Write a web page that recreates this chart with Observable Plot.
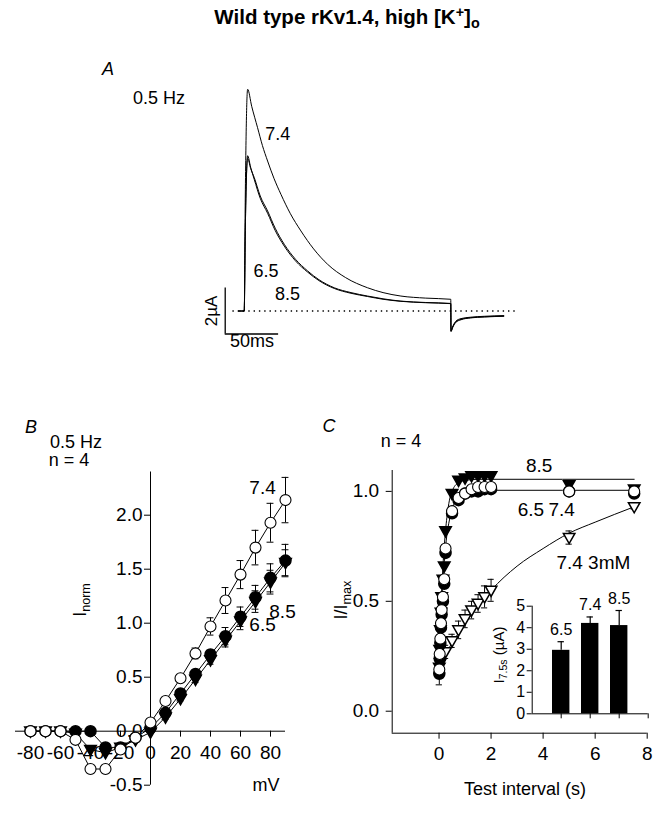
<!DOCTYPE html>
<html><head><meta charset="utf-8">
<script src="https://cdn.jsdelivr.net/npm/d3@7"></script>
<script src="https://cdn.jsdelivr.net/npm/@observablehq/plot@0.6"></script>
<style>
body{margin:0;background:#fff;}
#fig{position:relative;width:660px;height:817px;background:#fff;font-family:"Liberation Sans",Arial,Helvetica,sans-serif;color:#000;overflow:hidden;}
.lbl{position:absolute;white-space:nowrap;line-height:0.9;}
.lbl sub{font-size:0.7em;vertical-align:-0.3em;}
.lbl sup{font-size:0.7em;vertical-align:0.45em;}
</style></head><body><div id="fig"></div>
<script>
// ===== Panel A: current traces (time in ms, current in µA) =====
const traceT = [-5,0,1,3.2,7,12.5,17,21.9,28,34.4,43,53.1,65,78.1,95,115.5,130,146.7,170,193.4,193.6,195,198,203,212,225,243];
const trace74 = [0,0,5,9.64,8.9,7.97,7.2,6.52,5.75,5.07,4.25,3.48,2.7,2.03,1.45,1.01,0.8,0.65,0.56,0.51,-0.87,-0.7,-0.45,-0.33,-0.27,-0.23,-0.2];
const traceT2 = [-5,0,1,3.2,6,9.4,15,21.9,29,37.5,48,59.4,70,84.3,100,115.5,130,146.7,170,193.4,193.6,195,198,203,212,225,243];
const trace65 = [0,0,3.5,6.64,6.2,5.8,5.0,4.35,3.6,2.9,2.25,1.74,1.36,1.01,0.8,0.65,0.53,0.43,0.37,0.33,-0.87,-0.72,-0.48,-0.36,-0.29,-0.25,-0.22];
const trace85 = [0,0,3.5,6.75,6.25,5.72,4.9,4.25,3.5,2.82,2.18,1.69,1.32,0.98,0.77,0.63,0.51,0.42,0.36,0.32,-0.9,-0.74,-0.5,-0.38,-0.3,-0.26,-0.23];

// ===== Panel B: I-V (mV, normalized current) =====
const vB   = [-80,-70,-60,-50,-40,-30,-20,-10,0,10,20,30,40,50,60,70,80,90];
const iB74 = [0,0,0,-0.08,-0.35,-0.35,-0.17,-0.06,0.08,0.28,0.49,0.72,0.97,1.21,1.45,1.70,1.93,2.14];
const eB74 = [0,0,0,0,0,0,0,0,0,0.02,0.03,0.05,0.08,0.12,0.13,0.16,0.18,0.21];
const iB65 = [0,0,0,0,0,-0.15,-0.15,-0.06,0.03,0.17,0.35,0.53,0.71,0.88,1.06,1.24,1.42,1.58];
const eB65 = [0,0,0,0,0,0,0,0,0,0.02,0.02,0.03,0.04,0.08,0.09,0.11,0.13,0.15];
const iB85 = [0,0,0,-0.02,-0.17,-0.2,-0.15,-0.08,-0.01,0.13,0.3,0.48,0.66,0.84,1.02,1.2,1.38,1.56];
const eB85 = [0,0,0,0,0,0,0,0,0,0.02,0.02,0.03,0.04,0.06,0.08,0.1,0.11,0.12];
const bYTicks = [-0.5,0,0.5,1,1.5,2];
const bXTicks = [-80,-60,-40,-20,0,20,40,60,80];
const bXTickMarks = [-80,-60,-40,-20,20,40,60,80];

// ===== Panel C: recovery (s, I/Imax) =====
const tC   = [0.01,0.025,0.05,0.075,0.1,0.15,0.2,0.25,0.5,0.75,1,1.25,1.5,1.75,2,5,7.5];
const cC74 = [0.19,0.26,0.33,0.40,0.46,0.52,0.60,0.74,0.91,0.97,0.99,1.01,1.02,1.02,1.02,1.0,1.0];
const cC65 = [0.17,0.24,0.31,0.38,0.44,0.50,0.58,0.72,0.90,0.96,0.99,1.0,1.0,1.01,1.01,1.0,0.99];
const eC65 = [0.05,0.02,0.02,0.02,0.02,0.02,0.02,0.02,0.01,0.01,0.01,0.01,0.01,0.01,0.01,0.01,0.01];
const cC85 = [0.20,0.28,0.37,0.45,0.52,0.60,0.66,0.82,0.99,1.05,1.06,1.07,1.07,1.07,1.07,1.03,1.01];
const tC3  = [0.05,0.25,0.5,0.75,1,1.25,1.5,1.75,2,5,7.5];
const cC3  = [0.22,0.27,0.32,0.37,0.42,0.46,0.49,0.52,0.55,0.79,0.93];
const eC3  = [0.02,0.03,0.03,0.04,0.04,0.04,0.04,0.05,0.05,0.03,0.01];
const fitT   = [0,0.02,0.05,0.1,0.15,0.2,0.3,0.4,0.5,0.75,1,1.5,2,7.5];
const fit74  = [0.18,0.25,0.35,0.5,0.6,0.68,0.8,0.87,0.92,0.97,0.995,1.005,1.005,1.005];
const fit85  = [0.2,0.28,0.38,0.54,0.66,0.75,0.88,0.96,1.0,1.04,1.05,1.055,1.055,1.055];
const fit3T  = [0,0.5,1,1.5,2,3,4,5,6,7.5];
const fit3   = [0.21,0.31,0.40,0.48,0.55,0.66,0.74,0.81,0.86,0.93];
const cXTicks = [0,2,4,6,8];
const cYTicks = [0,0.5,1];

// ===== Inset: I7.5s bars (µA) =====
const barCats = ["6.5","7.4","8.5"];
const barVals = [2.95,4.2,4.1];
const barErr  = [0.4,0.3,0.7];
const insetYTicks = [0,1,2,3,4,5];

// ---------------------------------------------------------------
const FONT = '"Liberation Sans", Arial, Helvetica, sans-serif';
const fig = document.getElementById("fig");
function place(svg, left, top){
  svg.style.position="absolute"; svg.style.left=left+"px"; svg.style.top=top+"px";
  svg.style.background="transparent"; svg.style.overflow="visible";
  fig.appendChild(svg);
}
function label(html, x, y, o={}){
  const d=document.createElement("div"); d.className="lbl"; d.innerHTML=html;
  d.style.left=x+"px"; d.style.top=y+"px"; d.style.fontSize=(o.size||18)+"px";
  let tr="translate(-50%,-50%)"; if(o.rotate) tr+=` rotate(${o.rotate}deg)`;
  d.style.transform=tr;
  if(o.italic) d.style.fontStyle="italic"; if(o.bold) d.style.fontWeight="bold";
  fig.appendChild(d);
}
const style = {fontFamily: FONT, fontSize:"18px", background:"transparent", overflow:"visible", color:"black"};
const TK = 19; // tick label size
const triDown = {draw(ctx, size){ const r=Math.sqrt(size/Math.PI); ctx.moveTo(-r*1.05,-r*0.75); ctx.lineTo(r*1.05,-r*0.75); ctx.lineTo(0,r*1.1); ctx.closePath(); }};
function errMarks(xs, ys, es, cap, sw=1){
  const d = xs.map((x,i)=>({x, y:ys[i], e:es[i]})).filter(d=>d.e>0);
  return [
    Plot.ruleX(d,{x:"x", y1:d=>d.y-d.e, y2:d=>d.y+d.e, stroke:"black", strokeWidth:sw}),
    Plot.ruleY(d,{y:d=>d.y+d.e, x1:d=>d.x-cap, x2:d=>d.x+cap, stroke:"black", strokeWidth:sw}),
    Plot.ruleY(d,{y:d=>d.y-d.e, x1:d=>d.x-cap, x2:d=>d.x+cap, stroke:"black", strokeWidth:sw})
  ];
}
const zip = (xs, ys) => xs.map((x,i)=>({x, y:ys[i]}));

// Title and panel labels
label('Wild type rKv1.4, high [K<sup>+</sup>]<sub>o</sub>', 347, 18, {size:20.5, bold:true});
label('A', 108, 69, {size:18, italic:true});
label('0.5 Hz', 159, 98, {size:18});
label('B', 31, 427, {size:18, italic:true});
label('0.5 Hz', 76, 442, {size:18});
label('n = 4', 69, 460, {size:18});
label('I<sub>norm</sub>', 82, 600, {size:18, rotate:-90});
label('mV', 266, 785, {size:18});
label('C', 329, 426, {size:18, italic:true});
label('n = 4', 401, 441, {size:18});
label('I/I<sub>max</sub>', 343, 600, {size:18, rotate:-90});
label('Test interval (s)', 525, 789, {size:18});
label('I<sub>7.5s</sub> (µA)', 500, 655, {size:15, rotate:-90});

// ---------------- Panel A ----------------
const A = Plot.plot({
  width:316, height:287.5, marginLeft:0, marginRight:0.94, marginTop:0, marginBottom:0,
  x:{domain:[-40,255], axis:null}, y:{domain:[-2,10.5], axis:null}, style,
  marks:[
    Plot.ruleY([0],{x1:-10.6, x2:254, stroke:"black", strokeWidth:1.4, strokeDasharray:"1.4,3.9"}),
    Plot.line(zip(traceT2, trace85),{x:"x", y:"y", curve:"monotone-x", stroke:"black", strokeWidth:1}),
    Plot.line(zip(traceT2, trace65),{x:"x", y:"y", curve:"monotone-x", stroke:"black", strokeWidth:1}),
    Plot.line(zip(traceT, trace74),{x:"x", y:"y", curve:"monotone-x", stroke:"black", strokeWidth:1}),
    Plot.ruleX([-17.8],{y1:-1, y2:1, stroke:"black", strokeWidth:1.3}),
    Plot.ruleY([-1],{x1:-17.8, x2:32.2, stroke:"black", strokeWidth:1.3}),
    Plot.text(["2µA"],{x:-31, y:0, text:d=>d, rotate:-90, fontSize:17}),
    Plot.text(["50ms"],{x:7.2, y:-1.3, text:d=>d, fontSize:18}),
    Plot.text(["7.4"],{x:31.5, y:7.7, text:d=>d, fontSize:18}),
    Plot.text(["6.5"],{x:20.3, y:1.74, text:d=>d, fontSize:18}),
    Plot.text(["8.5"],{x:40.6, y:0.73, text:d=>d, fontSize:18})
  ]
});
place(A, 200.6, 68.5);

// ---------------- Panel B ----------------
const B = Plot.plot({
  width:300, height:390, marginLeft:15, marginRight:15, marginTop:51.5, marginBottom:25.3,
  x:{domain:[-90,90], axis:null}, y:{domain:[-0.5,2.4], axis:null}, style,
  marks:[
    Plot.ruleY([0],{x1:-90, x2:90, stroke:"black"}),
    Plot.ruleX([0],{y1:-0.5, y2:2.4, stroke:"black"}),
    Plot.ruleY(bYTicks,{y:d=>d, x1:-4, x2:0, stroke:"black"}),
    Plot.text(bYTicks,{x:0, y:d=>d, text:d=>d.toFixed(1), dx:-8, textAnchor:"end", fontSize:TK}),
    Plot.ruleX(bXTickMarks,{x:d=>d, y1:0, y2:-0.055, stroke:"black"}),
    Plot.text(bXTicks,{x:d=>d, y:0, text:d=>String(d), dy:22, fontSize:TK}),
    Plot.line(zip(vB,iB85),{x:"x", y:"y", stroke:"black", strokeWidth:1}),
    Plot.line(zip(vB,iB65),{x:"x", y:"y", stroke:"black", strokeWidth:1}),
    Plot.line(zip(vB,iB74),{x:"x", y:"y", stroke:"black", strokeWidth:1}),
    ...errMarks(vB,iB85,eB85,2.3),
    ...errMarks(vB,iB65,eB65,2.3),
    ...errMarks(vB,iB74,eB74,2.3),
    Plot.dot(zip(vB,iB85),{x:"x", y:"y", r:5.5, symbol:triDown, fill:"black", stroke:"black"}),
    Plot.dot(zip(vB,iB65),{x:"x", y:"y", r:5.5, fill:"black", stroke:"black"}),
    Plot.dot(zip(vB,iB74),{x:"x", y:"y", r:5.5, fill:"white", stroke:"black", strokeWidth:1.1}),
    Plot.text(["7.4"],{x:74.7, y:2.25, text:d=>d, fontSize:TK}),
    Plot.text(["8.5"],{x:88, y:1.108, text:d=>d, fontSize:TK}),
    Plot.text(["6.5"],{x:74.7, y:0.988, text:d=>d, fontSize:TK})
  ]
});
place(B, 0, 420);

// ---------------- Panel C ----------------
const C = Plot.plot({
  width:330, height:370, marginLeft:61.7, marginRight:13.3, marginTop:30, marginBottom:77.3,
  x:{domain:[-1.8,8], axis:null}, y:{domain:[-0.1,1.095], axis:null}, style,
  marks:[
    Plot.ruleX([-1.8],{y1:-0.1, y2:1.095, stroke:"black"}),
    Plot.ruleY([-0.1],{x1:-1.8, x2:8, stroke:"black"}),
    Plot.ruleX(cXTicks,{x:d=>d, y1:-0.1, y2:-0.1-6/220, stroke:"black"}),
    Plot.text(cXTicks,{x:d=>d, y:-0.1, text:d=>String(d), dy:21, fontSize:TK}),
    Plot.ruleY(cYTicks,{y:d=>d, x1:-1.8-6/26, x2:-1.8, stroke:"black"}),
    Plot.text(cYTicks,{x:-1.8, y:d=>d, text:d=>d.toFixed(1), dx:-13, textAnchor:"end", fontSize:TK}),
    Plot.line(zip(fit3T,fit3),{x:"x", y:"y", curve:"monotone-x", stroke:"black", strokeWidth:1}),
    Plot.line(zip(fitT,fit85),{x:"x", y:"y", curve:"monotone-x", stroke:"black", strokeWidth:1}),
    Plot.line(zip(fitT,fit74),{x:"x", y:"y", curve:"monotone-x", stroke:"black", strokeWidth:1}),
    ...errMarks(tC3,cC3,eC3,0.12),
    ...errMarks(tC,cC65,eC65,0.12),
    Plot.dot(zip(tC3,cC3),{x:"x", y:"y", r:5.5, symbol:triDown, fill:"white", stroke:"black"}),
    Plot.dot(zip(tC,cC85),{x:"x", y:"y", r:5.5, symbol:triDown, fill:"black", stroke:"black"}),
    Plot.dot(zip(tC,cC65),{x:"x", y:"y", r:5.5, fill:"black", stroke:"black"}),
    Plot.dot(zip(tC,cC74),{x:"x", y:"y", r:5.5, fill:"white", stroke:"black", strokeWidth:1.1}),
    Plot.text(["8.5"],{x:3.85, y:1.114, text:d=>d, fontSize:TK}),
    Plot.text(["6.5"],{x:3.53, y:0.918, text:d=>d, fontSize:TK}),
    Plot.text(["7.4"],{x:4.71, y:0.918, text:d=>d, fontSize:TK}),
    Plot.text(["7.4 3mM"],{x:5.93, y:0.673, text:d=>d, fontSize:TK})
  ]
});
place(C, 330, 440);

// ---------------- Inset ----------------
const barRows = barCats.map((c,i)=>({c, pos:i+1, v:barVals[i], e:barErr[i]}));
const I = Plot.plot({
  width:180, height:140, marginLeft:51.7, marginRight:12.3, marginTop:15.7, marginBottom:16.7,
  x:{domain:[0,4], axis:null}, y:{domain:[0,5], axis:null}, style:{...style, fontSize:"16px"},
  marks:[
    Plot.rect(barRows,{x1:d=>d.pos-0.3, x2:d=>d.pos+0.3, y1:0, y2:"v", fill:"black"}),
    Plot.ruleX(barRows,{x:"pos", y1:"v", y2:d=>d.v+d.e, stroke:"black", strokeWidth:1.2}),
    Plot.ruleY(barRows,{y:d=>d.v+d.e, x1:d=>d.pos-0.11, x2:d=>d.pos+0.11, stroke:"black", strokeWidth:1.2}),
    Plot.ruleX([0],{y1:0, y2:5, stroke:"black"}),
    Plot.ruleY([0],{x1:0, x2:4, stroke:"black"}),
    Plot.ruleY(insetYTicks,{y:d=>d, x1:-5/29, x2:0, stroke:"black"}),
    Plot.text(insetYTicks,{x:0, y:d=>d, text:d=>String(d), dx:-7, textAnchor:"end"}),
    Plot.ruleX([1,2,3,4],{x:d=>d, y1:0, y2:-5/21.5, stroke:"black"}),
    Plot.text(barRows,{x:"pos", y:d=>d.v+d.e, text:"c", dy:-12})
  ]
});
place(I, 480, 590);
</script></body></html>
